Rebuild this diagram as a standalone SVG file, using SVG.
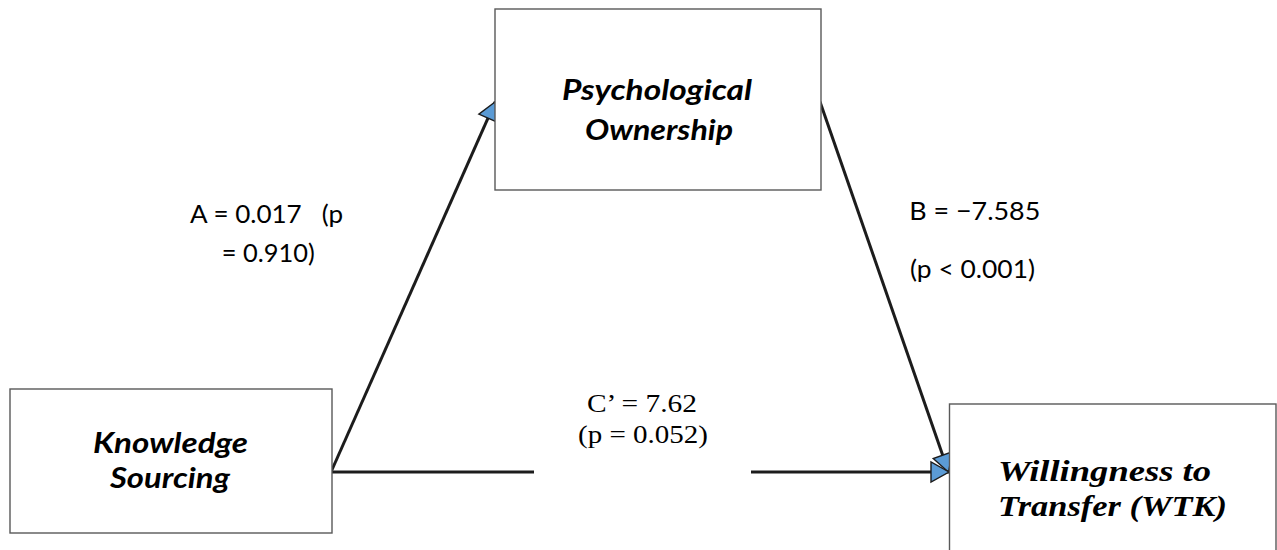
<svg xmlns="http://www.w3.org/2000/svg" width="1277" height="550" viewBox="0 0 1277 550">
<style>
.box{fill:#fff;stroke:#595959;stroke-width:1.4}
.conn{fill:none;stroke:#1c1c1c;stroke-width:3}
.lbl{font-family:Lato,"Liberation Sans",sans-serif;font-size:25px;fill:#000}
.ttl{font-family:Lato,"Liberation Sans",sans-serif;font-size:28px;font-weight:bold;font-style:italic;fill:#000}
.ttls{font-family:"Liberation Serif","Times New Roman",serif;font-size:30px;font-weight:bold;font-style:italic;fill:#000}
.lbls{font-family:"Liberation Serif","Times New Roman",serif;font-size:25.5px;fill:#000}
</style>
<defs>
<marker id="arr" markerUnits="userSpaceOnUse" markerWidth="24" markerHeight="24" viewBox="-20 -12 24 24" refX="0" refY="0" orient="auto">
<path d="M0,0 L-18,-10 L-18,10 Z" fill="#5b9bd5" stroke="#1c1c1c" stroke-width="1.4" stroke-linejoin="miter"/>
</marker>
</defs>
<g id="connectors">
<line class="conn" x1="331" y1="472" x2="495.3" y2="101.7" marker-end="url(#arr)"/>
<line class="conn" x1="820" y1="101.7" x2="948.6" y2="472.2" marker-end="url(#arr)"/>
<line class="conn" x1="331" y1="472" x2="534" y2="472"/>
<line class="conn" x1="751" y1="472" x2="949" y2="472" marker-end="url(#arr)"/>
</g>
<g id="node-po">
<rect class="box" x="495" y="9" width="326" height="181"/>
<text class="ttl" x="562" y="100" textLength="190" lengthAdjust="spacingAndGlyphs">Psychological</text>
<text class="ttl" x="585" y="139.5" textLength="148" lengthAdjust="spacingAndGlyphs">Ownership</text>
</g>
<g id="node-ks">
<rect class="box" x="10" y="389" width="322" height="144"/>
<text class="ttl" x="93" y="453" textLength="155" lengthAdjust="spacingAndGlyphs">Knowledge</text>
<text class="ttl" x="110" y="488" textLength="120" lengthAdjust="spacingAndGlyphs">Sourcing</text>
</g>
<g id="node-wtk">
<rect class="box" x="949.5" y="404" width="326.5" height="160"/>
<text class="ttls" x="998" y="481" textLength="213" lengthAdjust="spacingAndGlyphs">Willingness to</text>
<text class="ttls" x="998" y="516" textLength="229" lengthAdjust="spacingAndGlyphs">Transfer (WTK)</text>
</g>
<g id="label-a">
<text class="lbl" x="190" y="223.3" xml:space="preserve" textLength="153" lengthAdjust="spacingAndGlyphs">A = 0.017   (p</text>
<text class="lbl" x="221.7" y="261.7" textLength="93" lengthAdjust="spacingAndGlyphs">= 0.910)</text>
</g>
<g id="label-b">
<text class="lbl" x="909.3" y="220" textLength="131" lengthAdjust="spacingAndGlyphs">B = −7.585</text>
<text class="lbl" x="910" y="278.3" textLength="125" lengthAdjust="spacingAndGlyphs">(p &lt; 0.001)</text>
</g>
<g id="label-c">
<text class="lbls" x="587" y="411.7" textLength="110" lengthAdjust="spacingAndGlyphs">C’ = 7.62</text>
<text class="lbls" x="578" y="443.3" textLength="130" lengthAdjust="spacingAndGlyphs">(p = 0.052)</text>
</g>
</svg>
